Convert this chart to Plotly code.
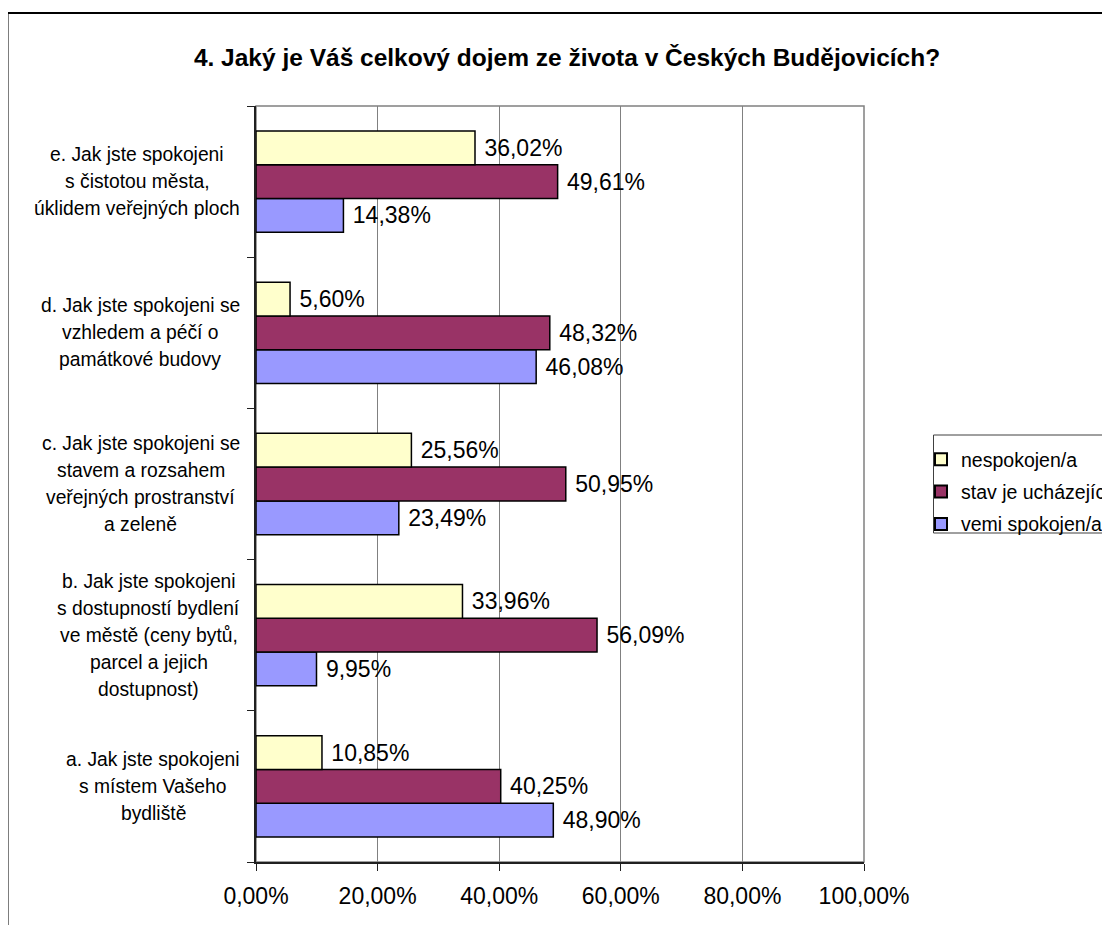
import plotly.graph_objects as go

categories = [
    "a. Jak jste spokojeni<br>s místem Vašeho<br>bydliště",
    "b. Jak jste spokojeni<br>s dostupností bydlení<br>ve městě (ceny bytů,<br>parcel a jejich<br>dostupnost)",
    "c. Jak jste spokojeni se<br>stavem a rozsahem<br>veřejných prostranství<br>a zeleně",
    "d. Jak jste spokojeni se<br>vzhledem a péčí o<br>památkové budovy",
    "e. Jak jste spokojeni<br>s čistotou města,<br>úklidem veřejných ploch",
]
nespokojen = [10.85, 33.96, 25.56, 5.60, 36.02]
uchazejici = [40.25, 56.09, 50.95, 48.32, 49.61]
velmi_spokojen = [48.90, 9.95, 23.49, 46.08, 14.38]

series_names = ["vemi spokojen/a", "stav je ucházející", "nespokojen/a"]
series_values = [velmi_spokojen, uchazejici, nespokojen]
series_colors = ["#9999FF", "#993366", "#FFFFCC"]
legend_ranks = [3, 2, 1]

tick_vals = [0, 20, 40, 60, 80, 100]
tick_text = ["0,00%", "20,00%", "40,00%", "60,00%", "80,00%", "100,00%"]

title_text = "4. Jaký je Váš celkový dojem ze života v Českých Budějovicích?"

FONT = "Liberation Sans, Arial, sans-serif"

# page has an 8px body margin: figure occupies page px 8..1110, 8..925
W, H = 1102, 917
L, R, T, B = 248, 246, 98, 63
PW, PH = W - L - R, H - T - B

def px_x(page_x):
    return (page_x - 8 - L) / PW

def px_y(page_y):
    return (H - B - (page_y - 8)) / PH

fig = go.Figure()
for name, vals, col, rk in zip(series_names, series_values, series_colors, legend_ranks):
    fig.add_trace(go.Bar(
        y=categories, x=vals, name=name, orientation="h", legendgroup=name,
        legendrank=rk,
        marker=dict(color=col, line=dict(color="black", width=1.5)),
        texttemplate=" %{x:.2f}%", textposition="outside",
        textfont=dict(family=FONT, size=23, color="black"),
        cliponaxis=False,
    ))

# Arial / Liberation Sans advance widths (1/1000 em)
AW = {c: 556 for c in "abdeghnopqu0123456789áéěůú"}
AW.update({c: 500 for c in "cksvxyzčšýžJ"})
AW.update({c: 278 for c in " .,/tfí"})
AW.update({c: 222 for c in "ijl"})
AW.update({"r": 333, "ř": 333, "(": 333, ")": 333, "m": 833, "w": 722,
           "V": 667, "%": 889})

def text_width(s, size):
    return sum(AW.get(ch, 556) for ch in s) / 1000 * size

CAT_SIZE = 19.3
LINE_H = 27
anns = []
for c in categories:
    lines = c.split("<br>")
    n = len(lines)
    bw = max(text_width(l, CAT_SIZE) for l in lines)
    for i, ln in enumerate(lines):
        anns.append(dict(
            x=px_x(240), xref="paper", y=c, yref="y", text=ln, showarrow=False,
            xanchor="center", yanchor="middle", align="center",
            xshift=-bw / 2,
            yshift=((n - 1) / 2 - i) * LINE_H,
            font=dict(family=FONT, size=CAT_SIZE, color="black"),
        ))

fig.update_layout(
    width=W, height=H,
    margin=dict(l=L, r=R, t=T, b=B, autoexpand=False),
    paper_bgcolor="white", plot_bgcolor="white",
    separators=",.",
    barmode="group", bargap=0.33, bargroupgap=0,
    font=dict(family=FONT, color="black"),
    title=dict(text="<b>" + title_text + "</b>", x=(567 - 8) / W, xanchor="center",
               y=1 - 49 / H, yanchor="middle",
               font=dict(family=FONT, size=24.5, color="black")),
    legend=dict(x=px_x(921), xanchor="left", y=px_y(440), yanchor="top",
                traceorder="grouped", borderwidth=0,
                bgcolor="rgba(0,0,0,0)",
                font=dict(family=FONT, size=19.5, color="black"),
                itemsizing="constant", tracegroupgap=4),
    annotations=anns,
    shapes=[
        dict(type="rect", xref="paper", yref="paper", x0=0, x1=1, y0=0, y1=1,
             line=dict(color="#808080", width=1.5), layer="below"),
        dict(type="rect", xref="paper", yref="paper", x0=-0.4087, x1=2.0,
             y0=-1.0, y1=px_y(13), line=dict(color="black", width=2)),
        dict(type="rect", xref="paper", yref="paper", x0=px_x(933.5), x1=px_x(1130),
             y0=px_y(533), y1=px_y(435), line=dict(color="#404040", width=1)),
    ],
    showlegend=True,
)
fig.update_xaxes(range=[0, 100], tickvals=tick_vals, ticktext=tick_text,
                 showgrid=True, gridcolor="#808080", gridwidth=1,
                 zeroline=False, showline=True, linecolor="#202020", linewidth=2,
                 ticks="outside", ticklen=7, tickcolor="#202020",
                 tickfont=dict(family=FONT, size=23, color="black"),
                 ticklabelstandoff=5)
fig.update_yaxes(showticklabels=False, showline=True, linecolor="#202020",
                 linewidth=2, ticks="outside", tickson="boundaries", ticklen=7,
                 tickcolor="#202020", showgrid=False, categoryorder="array",
                 categoryarray=categories)

fig.write_html("out.html")
